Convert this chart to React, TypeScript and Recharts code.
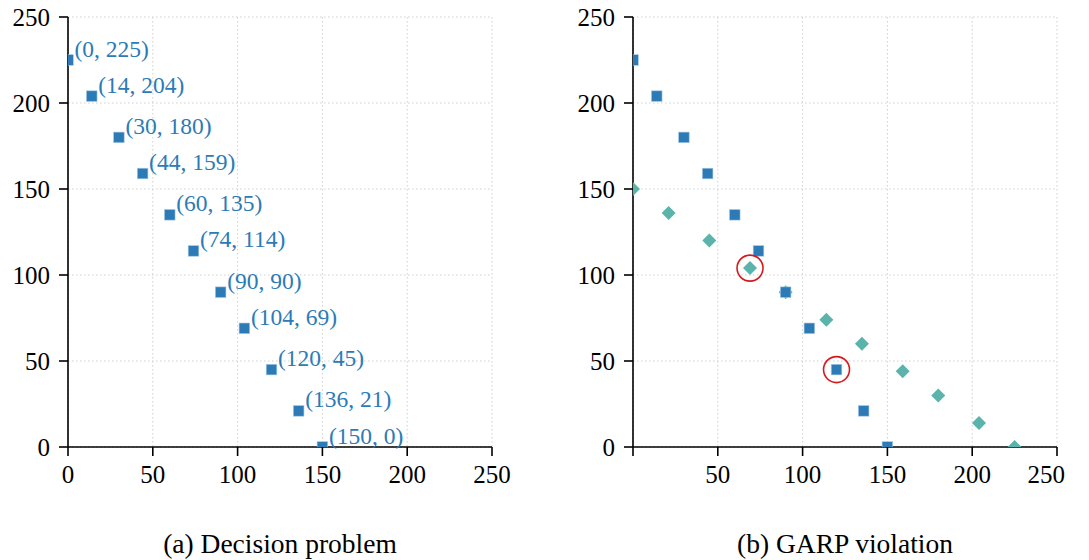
import React from 'react';
import { ScatterChart, Scatter, XAxis, YAxis, CartesianGrid, LabelList } from 'recharts';

const budgetX = [0, 14, 30, 44, 60, 74, 90, 104, 120, 136, 150];
const budgetY = [225, 204, 180, 159, 135, 114, 90, 69, 45, 21, 0];
const otherX = [0, 21, 45, 69, 90, 114, 135, 159, 180, 204, 225];
const otherY = [150, 136, 120, 104, 90, 74, 60, 44, 30, 14, 0];
const violX = [69, 120];
const violY = [104, 45];
const axisTicks = [0, 50, 100, 150, 200, 250];
const captions = ['(a) Decision problem', '(b) GARP violation'];

const squares = budgetX.map((x, i) => ({ x, y: budgetY[i] }));
const diamonds = otherX.map((x, i) => ({ x, y: otherY[i] }));
const violations = violX.map((x, i) => ({ x, y: violY[i] }));

const BLUE = '#2c7bb6';
const TEAL = '#5ab4ac';
const RED = '#d7191c';
const FONT = '"Liberation Serif", "DejaVu Serif", serif';

const Square = (p: any) => (
  <rect x={p.cx - 5.3} y={p.cy - 5.3} width={10.6} height={10.6} fill={BLUE} stroke="#a9c9e6" strokeWidth={0.6} />
);
const Diamond = (p: any) => {
  const r = 7;
  return (
    <polygon
      points={`${p.cx},${p.cy - r} ${p.cx + r},${p.cy} ${p.cx},${p.cy + r} ${p.cx - r},${p.cy}`}
      fill={TEAL}
    />
  );
};
const Ring = (p: any) => <circle cx={p.cx} cy={p.cy} r={13} fill="none" stroke={RED} strokeWidth={1.6} />;

const PointLabel = (p: any) => {
  const { x, y, width, height, index } = p;
  const cx = x + width / 2;
  const cy = y + height / 2;
  return (
    <text x={cx + 6.5} y={cy - 3.5} fill={BLUE} fontSize={23.5} fontFamily={FONT}>
      {`(${budgetX[index]}, ${budgetY[index]})`}
    </text>
  );
};

const tickStyle = { fill: '#000', fontSize: 25, fontFamily: FONT };
const axisLine = { stroke: '#000', strokeWidth: 1.6 };
const tickLine = { stroke: '#000', strokeWidth: 1.6 };

function Panel({ right }: { right: boolean }) {
  return (
    <ScatterChart
      width={right ? 500 : 545}
      height={500}
      margin={{ top: 17, right: right ? 8 : 53, bottom: 0, left: 0 }}
    >
      <CartesianGrid stroke="#cfcfcf" strokeDasharray="1.5 2.5" strokeWidth={1} />
      <XAxis
        type="number"
        dataKey="x"
        domain={[0, 250]}
        ticks={axisTicks}
        allowDataOverflow
        height={53}
        tickSize={9}
        tickMargin={9}
        tick={tickStyle}
        axisLine={axisLine}
        tickLine={tickLine}
        tickFormatter={(v: number) => (right && v === 0 ? '' : String(v))}
      />
      <YAxis
        type="number"
        dataKey="y"
        domain={[0, 250]}
        ticks={axisTicks}
        allowDataOverflow
        width={68}
        tickSize={9}
        tickMargin={9}
        tick={tickStyle}
        axisLine={axisLine}
        tickLine={tickLine}
      />
      {right && <Scatter data={diamonds} shape={Diamond} isAnimationActive={false} />}
      <Scatter data={squares} shape={Square} isAnimationActive={false}>
        {!right && <LabelList dataKey="x" content={PointLabel} />}
      </Scatter>
      {right && <Scatter data={violations} shape={Ring} isAnimationActive={false} />}
    </ScatterChart>
  );
}

export default function App() {
  return (
    <div style={{ position: 'absolute', left: 0, top: 0, width: 1089, height: 560, background: '#fff', fontFamily: FONT }}>
      <div style={{ position: 'absolute', left: 0, top: 0 }}>
        <Panel right={false} />
      </div>
      <div style={{ position: 'absolute', left: 565, top: 0 }}>
        <Panel right={true} />
      </div>
      <div style={{ position: 'absolute', left: 80, width: 400, top: 528, textAlign: 'center', fontSize: 27.5, lineHeight: '32px', color: '#000' }}>
        {captions[0]}
      </div>
      <div style={{ position: 'absolute', left: 645, width: 400, top: 528, textAlign: 'center', fontSize: 27.5, lineHeight: '32px', color: '#000' }}>
        {captions[1]}
      </div>
    </div>
  );
}
